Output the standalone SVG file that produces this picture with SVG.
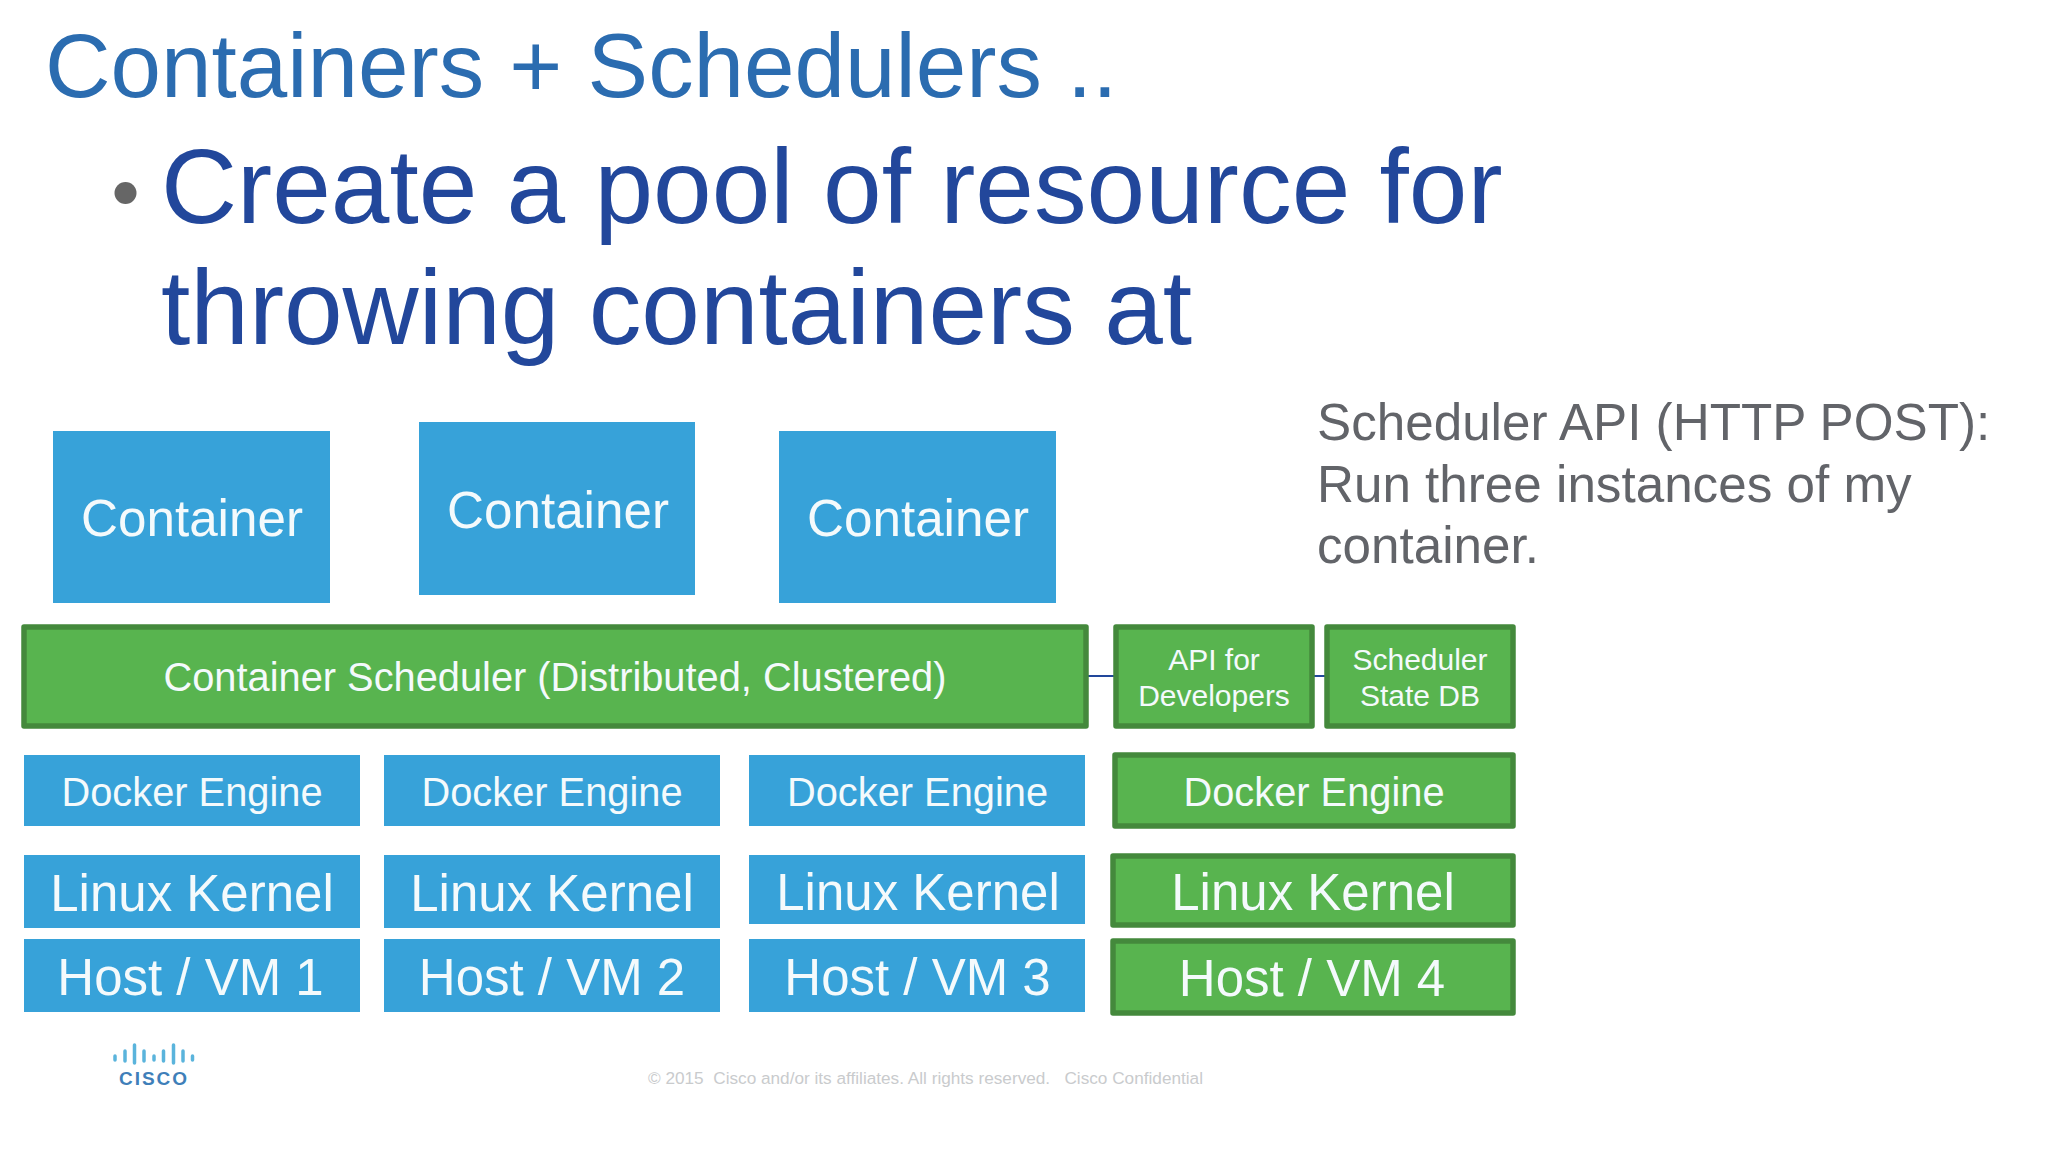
<svg xmlns="http://www.w3.org/2000/svg" width="2048" height="1152" viewBox="0 0 2048 1152">
<style>
text{font-family:"Liberation Sans",Arial,sans-serif}
.b{fill:#37a2d9}
.g{fill:#58b44f;stroke:#44893c;stroke-width:5.5;stroke-linejoin:round}
.t{fill:#f4fafc;text-anchor:middle}
.c{font-size:51.2px}.d{font-size:39.8px}.k{font-size:51px}.s{font-size:30px}.m{font-size:39.8px}
.n{fill:#626469;font-size:51.2px}
</style>
<rect width="2048" height="1152" fill="#fff"/>
<text id="title" x="45" y="97" font-size="90.800" fill="#2b6cb0">Containers + Schedulers ..</text>
<g id="bullet"><circle cx="125.500" cy="193" r="11" fill="#666"/>
<text x="161" y="223" font-size="105.400" fill="#22479b">Create a pool of resource for</text>
<text x="161" y="344" font-size="105.400" fill="#22479b">throwing containers at</text></g>
<g id="note"><text class="n" x="1317" y="440">Scheduler API (HTTP POST):</text>
<text class="n" x="1317" y="502">Run three instances of my</text>
<text class="n" x="1317" y="563">container.</text></g>
<g id="connectors" stroke="#22479b" stroke-width="2"><line x1="1086" y1="676" x2="1116" y2="676"/><line x1="1312" y1="676" x2="1327" y2="676"/></g>
<g id="container1"><rect class="b" x="53" y="431" width="277" height="172"/><text class="t c" x="192" y="536">Container</text></g>
<g id="container2"><rect class="b" x="419" y="422" width="276" height="173"/><text class="t c" x="558" y="528">Container</text></g>
<g id="container3"><rect class="b" x="779" y="431" width="277" height="172"/><text class="t c" x="918" y="536">Container</text></g>
<g id="scheduler"><rect class="g" x="24" y="627" width="1062" height="99"/><text class="t m" x="555" y="691">Container Scheduler (Distributed, Clustered)</text></g>
<g id="api"><rect class="g" x="1116" y="627" width="196" height="99"/><text class="t s" x="1214" y="670">API for</text><text class="t s" x="1214" y="706">Developers</text></g>
<g id="statedb"><rect class="g" x="1327" y="627" width="186" height="99"/><text class="t s" x="1420" y="670">Scheduler</text><text class="t s" x="1420" y="706">State DB</text></g>
<g id="docker1"><rect class="b" x="24" y="755" width="336" height="71"/><text class="t d" x="192" y="806">Docker Engine</text></g>
<g id="docker2"><rect class="b" x="384" y="755" width="336" height="71"/><text class="t d" x="552" y="806">Docker Engine</text></g>
<g id="docker3"><rect class="b" x="749" y="755" width="336" height="71"/><text class="t d" x="917.500" y="806">Docker Engine</text></g>
<g id="docker4"><rect class="g" x="1115" y="755" width="398" height="71"/><text class="t d" x="1314" y="806">Docker Engine</text></g>
<g id="linux1"><rect class="b" x="24" y="855" width="336" height="73"/><text class="t k" x="192" y="911">Linux Kernel</text></g>
<g id="linux2"><rect class="b" x="384" y="855" width="336" height="73"/><text class="t k" x="552" y="911">Linux Kernel</text></g>
<g id="linux3"><rect class="b" x="749" y="855" width="336" height="69"/><text class="t k" x="918" y="910">Linux Kernel</text></g>
<g id="linux4"><rect class="g" x="1113" y="856" width="400" height="69"/><text class="t k" x="1313" y="910">Linux Kernel</text></g>
<g id="host1"><rect class="b" x="24" y="939" width="336" height="73"/><text class="t k" x="190.500" y="995">Host / VM 1</text></g>
<g id="host2"><rect class="b" x="384" y="939" width="336" height="73"/><text class="t k" x="552" y="995">Host / VM 2</text></g>
<g id="host3"><rect class="b" x="749" y="939" width="336" height="73"/><text class="t k" x="917.500" y="995">Host / VM 3</text></g>
<g id="host4"><rect class="g" x="1113" y="941" width="400" height="72"/><text class="t k" x="1312" y="996">Host / VM 4</text></g>
<g id="logo"><g stroke="#5ab4dc" stroke-width="3.500" stroke-linecap="round">
<line x1="115" y1="1056" x2="115" y2="1060"/><line x1="125" y1="1051" x2="125" y2="1061"/><line x1="134.500" y1="1045" x2="134.500" y2="1063"/><line x1="144" y1="1051" x2="144" y2="1061"/><line x1="154" y1="1056" x2="154" y2="1060"/><line x1="163.500" y1="1051" x2="163.500" y2="1061"/><line x1="173.500" y1="1045" x2="173.500" y2="1063"/><line x1="183" y1="1051" x2="183" y2="1061"/><line x1="192.500" y1="1056" x2="192.500" y2="1060"/></g>
<text x="154" y="1085" font-size="19" font-weight="700" letter-spacing="2" text-anchor="middle" fill="#3f7fb9">CISCO</text></g>
<text id="footer" x="648" y="1084" font-size="17.200" fill="#c9cbcd" xml:space="preserve">© 2015  Cisco and/or its affiliates. All rights reserved.   Cisco Confidential</text>
</svg>
